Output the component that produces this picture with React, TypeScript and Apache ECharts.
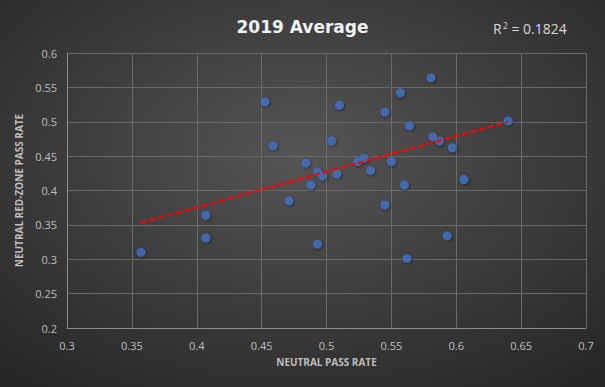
import React, { useEffect, useRef } from "react";
import * as echarts from "echarts";

const xValues = [0.357, 0.407, 0.407, 0.4526, 0.4588, 0.471, 0.484, 0.488, 0.493, 0.493, 0.497, 0.504, 0.508, 0.510, 0.524, 0.529, 0.534, 0.545, 0.545, 0.550, 0.557, 0.560, 0.562, 0.564, 0.5805, 0.582, 0.587, 0.593, 0.597, 0.606, 0.640];
const yValues = [0.31, 0.331, 0.364, 0.529, 0.465, 0.385, 0.440, 0.408, 0.322, 0.427, 0.421, 0.472, 0.424, 0.524, 0.442, 0.447, 0.429, 0.514, 0.379, 0.442, 0.542, 0.408, 0.301, 0.494, 0.564, 0.478, 0.472, 0.334, 0.462, 0.416, 0.501];
const trendX = [0.357, 0.640];
const trendY = [0.353, 0.500];
const xTicks = { min: 0.3, max: 0.7, interval: 0.05 };
const yTicks = { min: 0.2, max: 0.6, interval: 0.05 };
const titleText = "2019 Average";
const xName = "NEUTRAL PASS RATE";
const yName = "NEUTRAL RED-ZONE PASS RATE";
const r2Label = "0.1824";

function fmt(v: number) {
  return String(Math.round(v * 100) / 100);
}

export default function App() {
  const ref = useRef<HTMLDivElement>(null);
  useEffect(() => {
    if (!ref.current) return;
    const chart = echarts.init(ref.current, undefined, { renderer: "svg" });
    const font = "'Open Sans', 'Liberation Sans', sans-serif";
    chart.setOption({
      animation: false,
      backgroundColor: {
        type: "radial",
        x: 0.5,
        y: 0.4,
        r: 0.75,
        colorStops: [
          { offset: 0, color: "#555555" },
          { offset: 1, color: "#262626" },
        ],
      },
      title: {
        text: titleText,
        left: "center",
        top: 13,
        textStyle: { color: "#f2f2f2", fontSize: 17, fontWeight: "bold", fontFamily: "'DejaVu Sans', sans-serif" },
      },
      graphic: [
        {
          type: "text",
          left: 493,
          top: 21,
          style: {
            text: "{a|R}{s|2}{a| = " + r2Label + "}",
            rich: {
              a: { fill: "#d9d9d9", fontSize: 14, fontFamily: font },
              s: { fill: "#d9d9d9", fontSize: 9, fontFamily: font, verticalAlign: "top", padding: [0, 0, 6, 1] },
            },
          },
        },
      ],
      grid: { left: 67, right: 19, top: 53, bottom: 59 },
      xAxis: {
        type: "value",
        min: xTicks.min,
        max: xTicks.max,
        interval: xTicks.interval,
        name: xName,
        nameLocation: "middle",
        nameGap: 29,
        nameTextStyle: { color: "#bfbfbf", fontSize: 10, fontWeight: "bold", fontFamily: font },
        axisLine: { show: true, lineStyle: { color: "#8c8c8c", width: 1 } },
        axisTick: { show: false },
        axisLabel: { color: "#bfbfbf", fontSize: 11, fontFamily: font, margin: 12, formatter: fmt },
        splitLine: { show: true, lineStyle: { color: "#6a6a6a", width: 1 } },
      },
      yAxis: {
        type: "value",
        min: yTicks.min,
        max: yTicks.max,
        interval: yTicks.interval,
        name: yName,
        nameLocation: "middle",
        nameGap: 37,
        nameTextStyle: { color: "#bfbfbf", fontSize: 10, fontWeight: "bold", fontFamily: font },
        axisLine: { show: true, lineStyle: { color: "#8c8c8c", width: 1 } },
        axisTick: { show: false },
        axisLabel: { color: "#bfbfbf", fontSize: 11, fontFamily: font, margin: 10, formatter: fmt },
        splitLine: { show: true, lineStyle: { color: "#6a6a6a", width: 1 } },
      },
      series: [
        {
          type: "line",
          data: trendX.map((x, i) => [x, trendY[i]]),
          symbol: "none",
          lineStyle: { color: "#ff0000", width: 2.2, type: [6, 3] },
          z: 3,
        },
        {
          type: "scatter",
          data: xValues.map((x, i) => [x, yValues[i]]),
          symbolSize: 9,
          itemStyle: {
            color: "#4472c4",
            shadowBlur: 3,
            shadowColor: "rgba(0,0,0,0.6)",
            shadowOffsetX: 1,
            shadowOffsetY: 1,
          },
          z: 2,
        },
      ],
    });
    return () => chart.dispose();
  }, []);
  return (
    <div
      ref={ref}
      style={{ position: "absolute", left: 0, top: 0, width: 605, height: 387 }}
    />
  );
}
